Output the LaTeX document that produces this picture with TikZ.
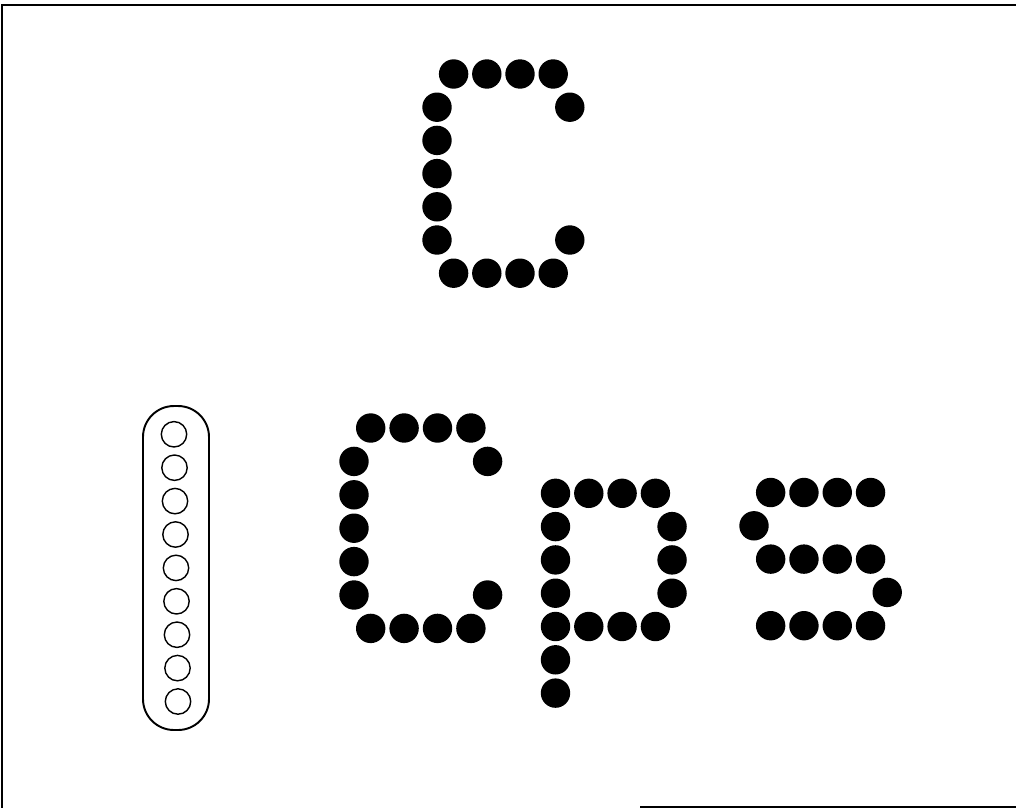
\documentclass[tikz,border=0pt]{standalone}
\usepackage{tikz}
\usetikzlibrary{positioning}
\definecolor{dmink}{HTML}{000000}
\tikzstyle{dmdot}=[fill=dmink]
\tikzstyle{dmpin}=[draw=dmink,line width=0.8pt]
\tikzstyle{dmframe}=[draw=dmink,line width=1.1pt]
\newcommand{\dmrad}{14.7}

\begin{document}
\begin{tikzpicture}[x=0.02cm,y=-0.02cm]
    \useasboundingbox (0,0) rectangle (1016,808);
    % frame
    \draw[dmframe] (1016,5) -- (2,5) -- (2,808);
    \draw[dmframe] (640,807) -- (1016,807);
    % big C
    \begin{scope}[shift={(437,74)}]
      \foreach \c/\r in {0.5/0,1.5/0,2.5/0,3.5/0,0/1,0/2,0/3,0/4,0/5,4/1,4/5,0.5/6,1.5/6,2.5/6,3.5/6}
        \fill[dmdot] (\c*33.2,\r*33.2) circle (\dmrad);
    \end{scope}
    % print head
    \draw[dmpin,line width=1.1pt,rounded corners=0.62cm] (143,406) rectangle (209,730);
    \foreach \i in {0,...,8}
      \draw[dmpin] (174+0.5*\i,434.3+33.4*\i) circle (12.7);
    % C
    \begin{scope}[shift={(354,428)}]
      \foreach \c/\r in {0.5/0,1.5/0,2.5/0,3.5/0,0/1,0/2,0/3,0/4,0/5,4/1,4/5,0.5/6,1.5/6,2.5/6,3.5/6}
        \fill[dmdot] (\c*33.4,\r*33.4) circle (\dmrad);
    \end{scope}
    % p
    \begin{scope}[shift={(555.5,493.3)}]
      \foreach \c/\r in {0/0,1/0,2/0,3/0,0/1,0/2,0/3,0/4,0/5,0/6,3.5/1,3.5/2,3.5/3,1/4,2/4,3/4}
        \fill[dmdot] (\c*33.3,\r*33.3) circle (\dmrad);
    \end{scope}
    % s
    \begin{scope}[shift={(754,492.5)}]
      \foreach \c/\r in {0.5/0,1.5/0,2.5/0,3.5/0,0/1,0.5/2,1.5/2,2.5/2,3.5/2,4/3,0.5/4,1.5/4,2.5/4,3.5/4}
        \fill[dmdot] (\c*33.3,\r*33.3) circle (\dmrad);
    \end{scope}
\end{tikzpicture}
\end{document}
